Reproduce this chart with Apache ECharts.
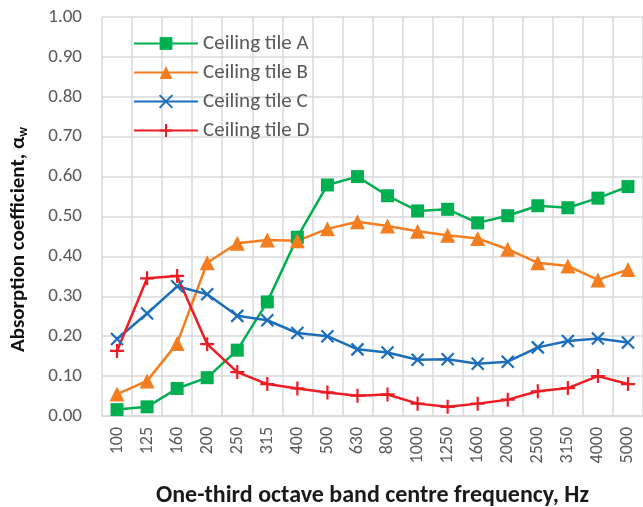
<!DOCTYPE html>
<html><head><meta charset="utf-8">
<script src="https://cdn.jsdelivr.net/npm/echarts@6/dist/echarts.min.js"></script>
<style>html,body{margin:0;padding:0;background:#fff}#c{width:643px;height:507px}</style>
</head><body><div id="c"></div>
<script>
const categories = ['100','125','160','200','250','315','400','500','630','800','1000','1250','1600','2000','2500','3150','4000','5000'];
const tileA = [0.016,0.023,0.069,0.096,0.165,0.286,0.448,0.579,0.600,0.552,0.514,0.518,0.484,0.502,0.527,0.522,0.546,0.575];
const tileB = [0.055,0.088,0.182,0.384,0.433,0.441,0.439,0.469,0.487,0.476,0.463,0.453,0.445,0.418,0.384,0.376,0.341,0.367];
const tileC = [0.193,0.257,0.325,0.305,0.251,0.240,0.208,0.200,0.167,0.159,0.141,0.142,0.131,0.136,0.172,0.188,0.194,0.184];
const tileD = [0.163,0.345,0.351,0.180,0.110,0.080,0.069,0.059,0.051,0.054,0.031,0.023,0.031,0.041,0.062,0.070,0.100,0.080];
const names = ['Ceiling tile A','Ceiling tile B','Ceiling tile C','Ceiling tile D'];

const FONT = 'Carlito, Lato, "Liberation Sans", sans-serif';
const colors = ['#00B050','#F47D20','#1C6EBA','#EE1C25'];
const crossPath = 'path://M0,0L10,10M10,0L0,10';
const plusPath = 'path://M5,0L5,10M0,5L10,5';

function mk(name, data, color, symbol, size, stroke) {
  return {
    name, type: 'line', data, symbol, symbolSize: size,
    lineStyle: {color, width: 2.5},
    itemStyle: stroke ? {color: 'none', borderColor: color, borderWidth: 2.2} : {color, borderColor: color, borderWidth: 0},
    showSymbol: true, animation: false, z: 3
  };
}

const chart = echarts.init(document.getElementById('c'), null, {renderer: 'canvas'});
chart.setOption({
  animation: false,
  textStyle: {fontFamily: FONT},
  grid: {left: 102, right: 0, top: 17, bottom: 91, containLabel: false, outerBoundsMode: 'none'},
  legend: {
    orient: 'vertical', left: 133, top: 33, padding: 0, itemGap: 8, itemWidth: 64, itemHeight: 16,
    textStyle: {fontFamily: FONT, fontSize: 21, color: '#595959'},
    data: names
  },
  xAxis: {
    type: 'category', data: categories, boundaryGap: true,
    axisLine: {show: true, lineStyle: {color: '#D9D9D9', width: 1.5}},
    axisTick: {show: false},
    splitLine: {show: true, lineStyle: {color: '#D9D9D9', width: 1.5}},
    axisLabel: {rotate: 90, fontSize: 18, color: '#595959', fontFamily: FONT, margin: 11, interval: 0},
    name: 'One-third octave band centre frequency, Hz', nameLocation: 'middle', nameGap: 68,
    nameTextStyle: {fontSize: 24, fontWeight: 'bold', color: '#1a1a1a', fontFamily: FONT}
  },
  yAxis: {
    type: 'value', min: 0, max: 1, interval: 0.1,
    axisLine: {show: false}, axisTick: {show: false},
    splitLine: {show: true, lineStyle: {color: '#D9D9D9', width: 1.5}},
    axisLabel: {fontSize: 19, color: '#595959', fontFamily: FONT, margin: 20, formatter: v => v.toFixed(2)},
    name: '{a|Absorption coefficient, α}{s|w}', nameLocation: 'middle', nameGap: 72,
    nameTextStyle: {
      padding: [0, 46, 0, 0],
      rich: {
        a: {fontSize: 21, fontWeight: 'bold', color: '#111', fontFamily: FONT},
        s: {fontSize: 13, fontWeight: 'bold', color: '#111', fontFamily: FONT, padding: [10,0,0,0]}
      }
    }
  },
  series: [
    mk(names[0], tileA, colors[0], 'rect', 13, false),
    mk(names[1], tileB, colors[1], 'triangle', 15, false),
    mk(names[2], tileC, colors[2], crossPath, 12, true),
    mk(names[3], tileD, colors[3], plusPath, 14, true)
  ]
});
</script></body></html>
